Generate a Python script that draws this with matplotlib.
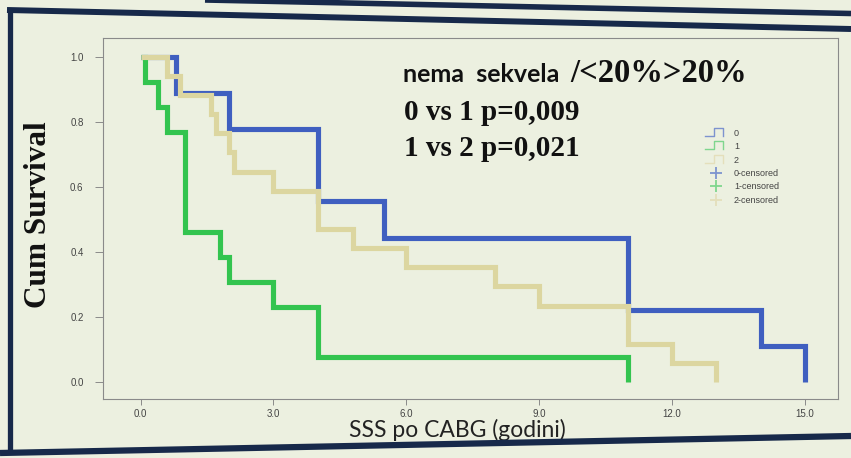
import matplotlib
matplotlib.use("Agg")
import matplotlib.pyplot as plt
from matplotlib.lines import Line2D
from matplotlib.legend_handler import HandlerBase

# Kaplan-Meier steps (time in years, cumulative survival)
t0 = [0.8, 2.0, 4.0, 5.5, 11.0, 14.0, 15.0]
s0 = [0.889, 0.778, 0.556, 0.444, 0.222, 0.111, 0.0]

t1 = [0.1, 0.4, 0.6, 1.0, 1.8, 2.0, 3.0, 4.0, 11.0]
s1 = [0.923, 0.846, 0.769, 0.462, 0.385, 0.308, 0.231, 0.077, 0.0]

t2 = [0.6, 0.9, 1.6, 1.7, 2.0, 2.1, 3.0, 4.0, 4.8, 6.0, 8.0, 9.0, 11.0, 12.0, 13.0]
s2 = [0.941, 0.882, 0.824, 0.765, 0.706, 0.647, 0.588, 0.471, 0.412, 0.353,
      0.294, 0.235, 0.118, 0.059, 0.0]

x_ticks = [0.0, 3.0, 6.0, 9.0, 12.0, 15.0]
y_ticks = [0.0, 0.2, 0.4, 0.6, 0.8, 1.0]

groups = ["0", "1", "2"]
colors = ["#3f5fc0", "#33c44f", "#dcd6a0"]
icon_colors = ["#7d93cf", "#7fd68e", "#e4dfbb"]

bg = "#ecf0e0"
navy = "#17294a"

W, H = 851, 458
fig = plt.figure(figsize=(W / 100, H / 100), dpi=100, facecolor=bg)
ax = fig.add_axes([103 / W, 1 - 399 / H, (838 - 103) / W, (399 - 38) / H])
ax.set_facecolor(bg)

for t, s, c in zip([t0, t1, t2], [s0, s1, s2], colors):
    ax.step([0.0] + t, [1.0] + s, where="post", color=c, lw=3.7,
            solid_joinstyle="miter", solid_capstyle="butt")

ax.set_xlim(-0.85, 15.75)
ax.set_ylim(-0.052, 1.058)
ax.set_xticks(x_ticks)
ax.set_xticklabels([f"{v:.1f}" for v in x_ticks])
ax.set_yticks(y_ticks)
ax.set_yticklabels([f"{v:.1f}" for v in y_ticks])
for sp in ax.spines.values():
    sp.set_color("#8a8a8a")
    sp.set_linewidth(0.8)
ax.tick_params(axis="y", length=6, width=0.7, color="#8a8a8a", pad=8,
               labelsize=7, labelcolor="#444444")
ax.tick_params(axis="x", length=4, width=0.7, color="#8a8a8a", pad=3,
               labelsize=7, labelcolor="#444444")
for lab in ax.get_xticklabels() + ax.get_yticklabels():
    lab.set_family("Liberation Sans")

ax.set_ylabel("Cum Survival", family="Liberation Serif", fontweight="bold",
              fontsize=22.5, color="#111111")
ax.yaxis.set_label_coords(-0.068, 0.51)
ax.set_xlabel("SSS po CABG (godini)", family="Lato", fontsize=16.5,
              color="#222222")
ax.xaxis.set_label_coords(0.482, -0.056)

fig.text(403 / W, 1 - 75 / H, "nema  sekvela", family="Lato", fontweight="bold",
         fontsize=18, color="#111111", va="center")
fig.text(570 / W, 1 - 73 / H, "/<20%>20%", family="Liberation Serif",
         fontweight="bold", fontsize=23.5, color="#111111", va="center")
fig.text(404 / W, 1 - 113 / H, "0 vs 1 p=0,009", family="Liberation Serif",
         fontweight="bold", fontsize=21, color="#111111", va="center")
fig.text(404 / W, 1 - 149 / H, "1 vs 2 p=0,021", family="Liberation Serif",
         fontweight="bold", fontsize=21, color="#111111", va="center")


class StepIcon(HandlerBase):
    def create_artists(self, legend, orig, xd, yd, width, height, fontsize, trans):
        c = orig.get_color()
        xs = [xd, xd + 0.45 * width, xd + 0.45 * width, xd + 0.85 * width, xd + 0.85 * width]
        ys = [yd, yd, yd + 1.3 * height, yd + 1.3 * height, yd]
        return [Line2D(xs, ys, color=c, lw=1.0, transform=trans)]


handles, labels, hmap = [], [], {}
for g, c in zip(groups, icon_colors):
    h = Line2D([], [], color=c)
    handles.append(h)
    labels.append(g)
    hmap[h] = StepIcon()
for g, c in zip(groups, icon_colors):
    handles.append(Line2D([], [], color=c, marker="+", ls="none", ms=8, mew=1.3))
    labels.append(g + "-censored")
leg = ax.legend(handles, labels, handler_map=hmap, loc="upper left",
                bbox_to_anchor=(697 / W, 1 - 121 / H), bbox_transform=fig.transFigure,
                frameon=False, labelspacing=0.48, handlelength=2.3,
                handletextpad=0.9, prop={"family": "Liberation Sans", "size": 6.5})
for txt in leg.get_texts():
    txt.set_color("#444444")

# slide frame decoration
def px_line(xs, ys, lw):
    fig.add_artist(Line2D([x / W for x in xs], [1 - y / H for y in ys],
                          color=navy, lw=lw, transform=fig.transFigure,
                          solid_capstyle="butt"))

px_line([9.5, 9.5], [9, 452], 3.8)
px_line([7, 851], [10, 29], 4.3)
px_line([205, 851], [0, 13.5], 4.0)
px_line([0, 851], [453, 436], 4.5)

fig.savefig("out.png", dpi=100, facecolor=bg)
